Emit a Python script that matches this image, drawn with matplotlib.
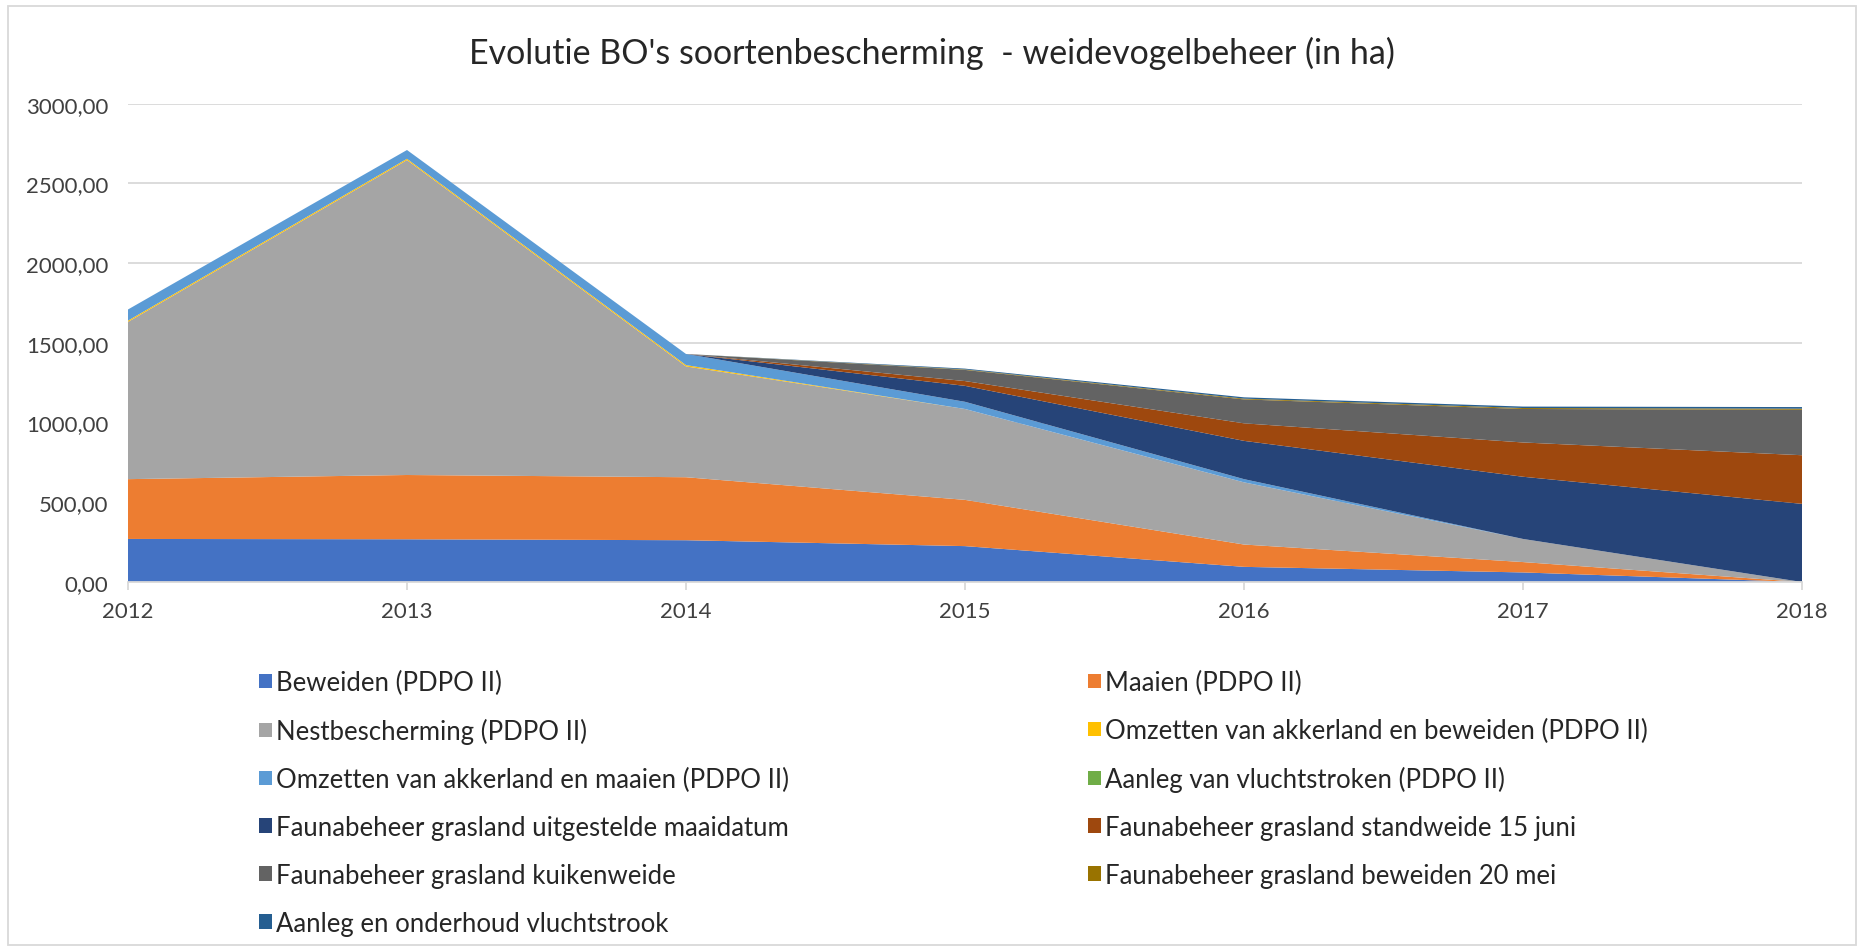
import matplotlib.pyplot as plt
import matplotlib.patches as patches

years = [2012, 2013, 2014, 2015, 2016, 2017, 2018]

beweiden = [270, 268, 262, 225, 95, 60, 0]
maaien = [375, 403, 395, 290, 140, 65, 0]
nestbescherming = [986, 1975, 695, 570, 390, 145, 0]
omzetten_beweiden = [8, 8, 8, 0, 0, 0, 0]
omzetten_maaien = [70, 55, 70, 45, 20, 0, 0]
aanleg_vluchtstroken = [0, 0, 0, 0, 0, 0, 0]
fauna_uitgesteld = [0, 0, 0, 100, 240, 390, 490]
fauna_standweide = [0, 0, 0, 30, 110, 215, 305]
fauna_kuikenweide = [0, 0, 0, 70, 150, 210, 285]
fauna_beweiden_20mei = [0, 0, 0, 3, 5, 6, 7]
aanleg_onderhoud = [0, 0, 0, 5, 8, 9, 10]

labels = [
    'Beweiden (PDPO II)',
    'Maaien (PDPO II)',
    'Nestbescherming (PDPO II)',
    'Omzetten van akkerland en beweiden (PDPO II)',
    'Omzetten van akkerland en maaien (PDPO II)',
    'Aanleg van vluchtstroken (PDPO II)',
    'Faunabeheer grasland uitgestelde maaidatum',
    'Faunabeheer grasland standweide 15 juni',
    'Faunabeheer grasland kuikenweide',
    'Faunabeheer grasland beweiden 20 mei',
    'Aanleg en onderhoud vluchtstrook',
]
colors = ['#4472C4', '#ED7D31', '#A5A5A5', '#FFC000', '#5B9BD5', '#70AD47',
          '#264478', '#9E480E', '#636363', '#997300', '#255E91']

series = [beweiden, maaien, nestbescherming, omzetten_beweiden, omzetten_maaien,
          aanleg_vluchtstroken, fauna_uitgesteld, fauna_standweide,
          fauna_kuikenweide, fauna_beweiden_20mei, aanleg_onderhoud]

plt.rcParams['font.family'] = ['Lato', 'DejaVu Sans']

fig = plt.figure(figsize=(18.64, 9.53), dpi=100)
ax = fig.add_axes([128 / 1864, 1 - 583 / 953, (1802 - 128) / 1864, (583 - 104.6) / 953])

ax.stackplot(years, *series, colors=colors, linewidth=0)

ax.set_xlim(2012, 2018)
ax.set_ylim(0, 3000)
ax.set_yticks(range(0, 3001, 500))
ax.set_yticklabels([f'{v},00' for v in range(0, 3001, 500)])
ax.set_xticks(years)
ax.grid(axis='y', color='#D9D9D9', linewidth=1.3)
ax.set_axisbelow(True)
for s in ['top', 'right', 'left']:
    ax.spines[s].set_visible(False)
ax.spines['bottom'].set_color('#D9D9D9')
ax.spines['bottom'].set_linewidth(1.3)
ax.tick_params(axis='y', length=0, pad=14, labelsize=16, labelcolor='#404040')
ax.tick_params(axis='x', length=6, color='#D9D9D9', width=1.3, pad=8,
               labelsize=16, labelcolor='#404040')

fig.text(0.5, 1 - 53 / 953, "Evolutie BO's soortenbescherming  - weidevogelbeheer (in ha)",
         ha='center', va='center', fontsize=24.5, color='#262626')

handles = [patches.Patch(facecolor=c) for c in colors]
kw = dict(frameon=False, fontsize=18.5, handlelength=0.5, handleheight=0.5,
          handletextpad=0.15, labelspacing=0.89, borderaxespad=0, borderpad=0,
          labelcolor='#262626')
col1 = [0, 2, 4, 6, 8, 10]
col2 = [1, 3, 5, 7, 9]
fig.legend([handles[i] for i in col1], [labels[i] for i in col1],
           loc='upper left', bbox_to_anchor=(259 / 1864, 1 - 671 / 953), **kw)
fig.legend([handles[i] for i in col2], [labels[i] for i in col2],
           loc='upper left', bbox_to_anchor=(1088 / 1864, 1 - 671 / 953), **kw)

fig.patches.append(patches.Rectangle((8 / 1864, 7 / 953), 1848 / 1864, 939 / 953,
                                     transform=fig.transFigure, fill=False,
                                     edgecolor='#D9D9D9', linewidth=1.3))

fig.savefig('out.png', dpi=100)
